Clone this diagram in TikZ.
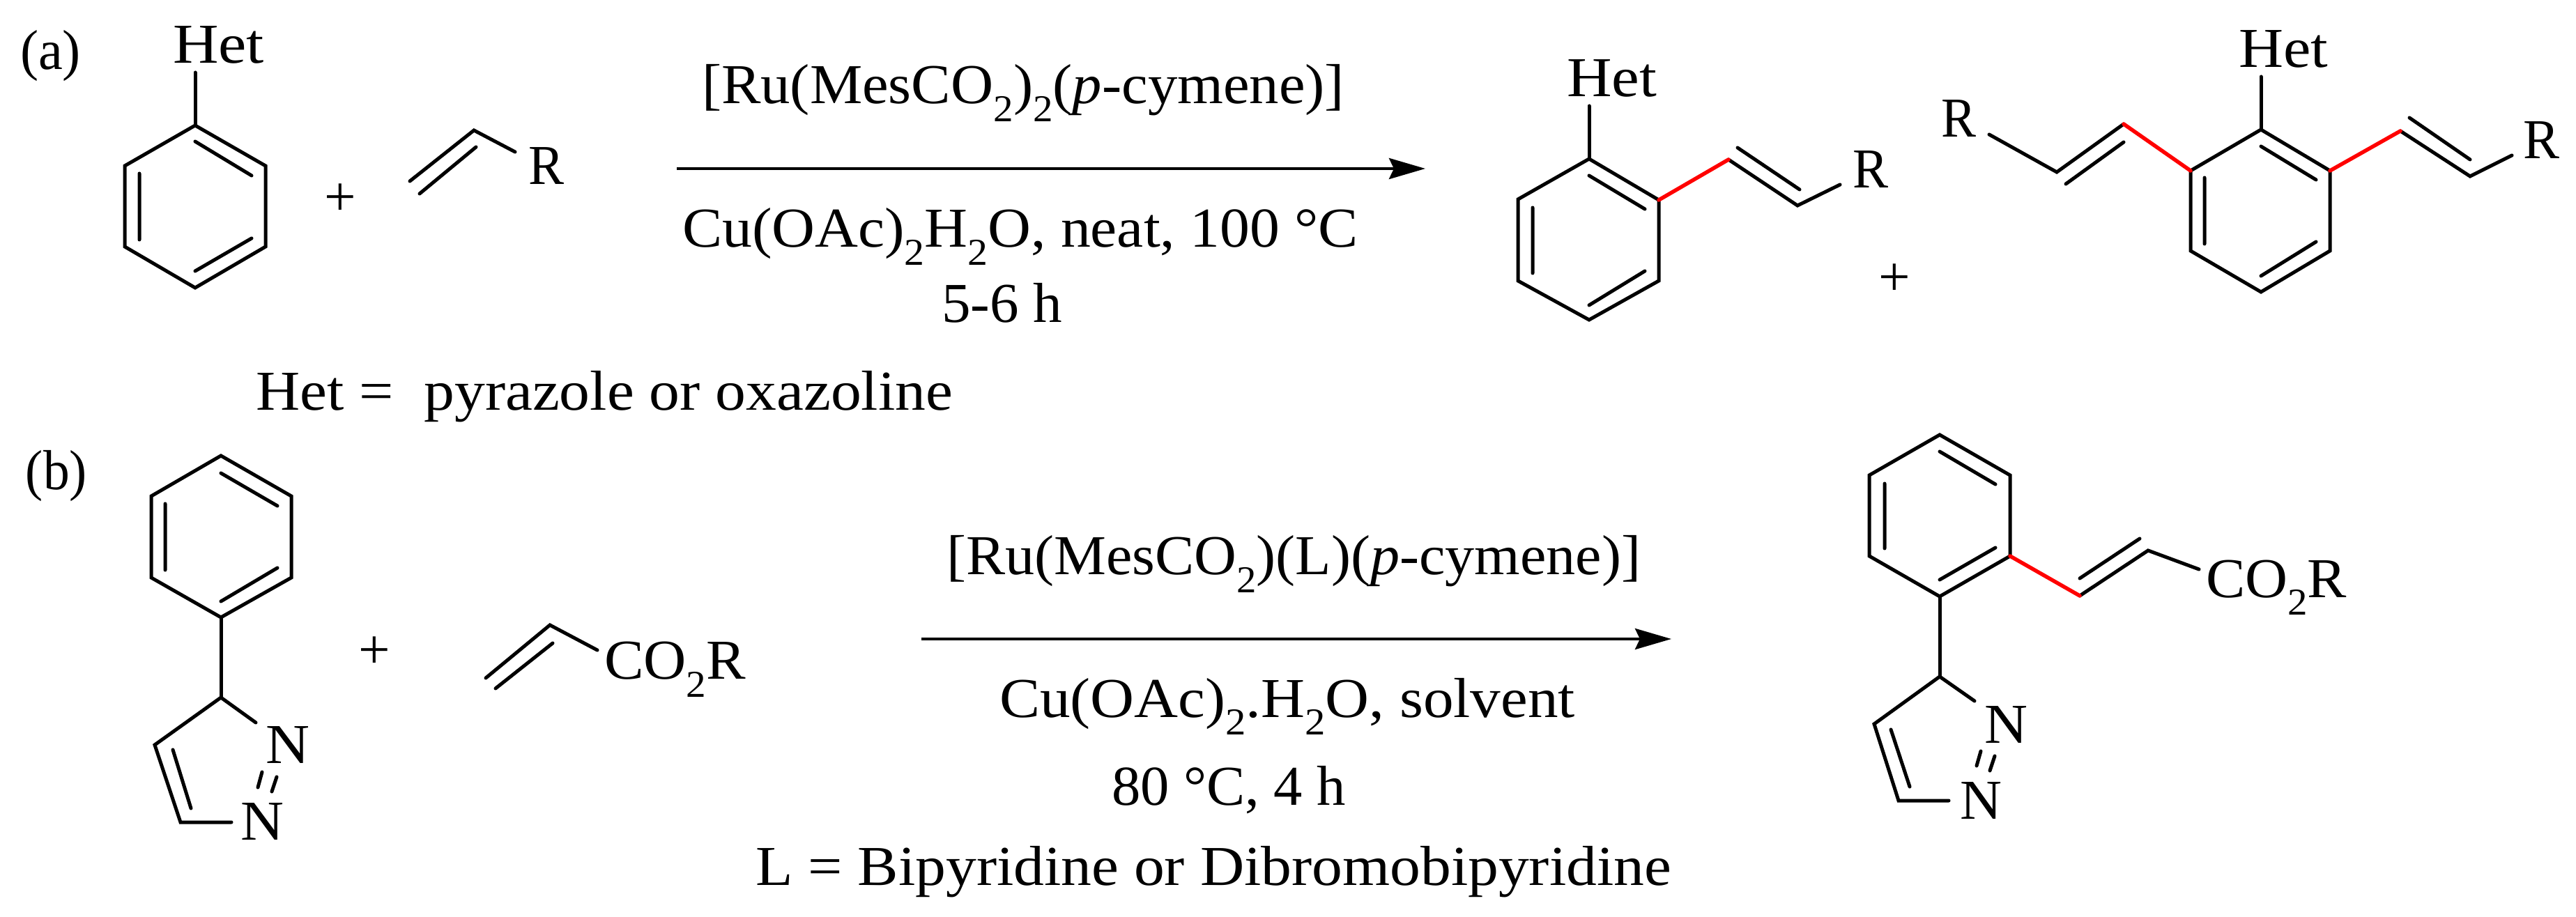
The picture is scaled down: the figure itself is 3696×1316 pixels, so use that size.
\documentclass[tikz,border=0pt]{standalone}
\usepackage{graphicx}
\usepackage{fontspec}
\setmainfont{Liberation Serif}
\usetikzlibrary{arrows.meta}
\newlength\pxu \setlength\pxu{0.01cm}
\newcommand\fit[2]{\resizebox{#1\pxu}{\height}{#2}}
\newcommand\subs[1]{\raisebox{-0.25cm}{\fontsize{15.5}{15.5}\selectfont #1}}
\tikzset{
  bond/.style={line width=0.05cm,line cap=round,line join=miter,black},
  redbond/.style={line width=0.055cm,line cap=round,color={rgb,255:red,255;green,0;blue,0}},
  rxn/.style={line width=0.042cm,-{Stealth[length=0.52cm,width=0.3cm,inset=0.07cm]}},
  lbl/.style={inner sep=0pt,outer sep=0pt,anchor=base west,font=\fontsize{23}{23}\selectfont},
  plusb/.style={inner sep=0pt,outer sep=0pt,anchor=center,font=\fontsize{23}{23}\selectfont}
}
\begin{document}
\begin{tikzpicture}[x=0.01cm,y=-0.01cm]
\useasboundingbox (0,0) rectangle (3696,1316);
% ---- (a) reactant
\node[lbl] (la) at (29,100) {\fit{87}{(a)}};
\node[lbl] (het1) at (248,91) {\fit{131}{Het}};
\coordinate (a0) at (280,104);
\coordinate (a1) at (280,180); \coordinate (a2) at (381,238); \coordinate (a3) at (381,354);
\coordinate (a4) at (280,413); \coordinate (a5) at (179,354); \coordinate (a6) at (179,238);
\coordinate (a1i) at (280,203); \coordinate (a2i) at (361,252);
\coordinate (a3i) at (361,342); \coordinate (a4i) at (280,389);
\coordinate (a5i) at (200,344); \coordinate (a6i) at (200,249);
\draw[bond] (a1)--(a2)--(a3)--(a4)--(a5)--(a6)--cycle;
\draw[bond] (a0)--(a1);
\draw[bond] (a1i)--(a2i) (a3i)--(a4i) (a5i)--(a6i);
\node[plusb] (p1) at (488,287) {+};
\coordinate (v1) at (588,260); \coordinate (v2) at (680,187); \coordinate (v3) at (739,218);
\coordinate (v1i) at (602,278); \coordinate (v2i) at (683,211);
\draw[bond] (v1)--(v2)--(v3);
\draw[bond] (v1i)--(v2i);
\node[lbl] (r1) at (758,265) {\fit{51}{R}};
\node[lbl] (hdef) at (367,589) {\fit{1000}{Het =\ \ pyrazole or oxazoline}};
% ---- (a) conditions
\node[lbl] (ca1) at (1007,149) {\fit{922}{[Ru(MesCO\subs{2})\subs{2}(\emph{p}-cymene)]}};
\coordinate (arA) at (971,242); \coordinate (arB) at (2045,242);
\draw[rxn] (arA)--(arB);
\node[lbl] (ca2) at (979,355) {\fit{970}{Cu(OAc)\subs{2}H\subs{2}O, neat, 100 °C}};
\node[lbl] (ca3) at (1351,463) {\fit{173}{5-6 h}};
% ---- (a) mono product
\node[lbl] (het2) at (2248,139) {\fit{129}{Het}};
\coordinate (m0) at (2280,152);
\coordinate (m1) at (2280,228); \coordinate (m2) at (2380,287); \coordinate (m3) at (2380,403);
\coordinate (m4) at (2280,459); \coordinate (m5) at (2178,403); \coordinate (m6) at (2178,286);
\coordinate (m1i) at (2280,252); \coordinate (m2i) at (2360,300);
\coordinate (m3i) at (2360,389); \coordinate (m4i) at (2280,438);
\coordinate (m5i) at (2199,392); \coordinate (m6i) at (2199,298);
\draw[bond] (m1)--(m2)--(m3)--(m4)--(m5)--(m6)--cycle;
\draw[bond] (m0)--(m1);
\draw[bond] (m1i)--(m2i) (m3i)--(m4i) (m5i)--(m6i);
\coordinate (mv1) at (2480,229); \coordinate (mv2) at (2579,295); \coordinate (mv3) at (2640,265);
\coordinate (mv1i) at (2493,212); \coordinate (mv2i) at (2582,272);
\draw[bond] (mv1)--(mv2)--(mv3);
\draw[bond] (mv1i)--(mv2i);
\draw[redbond] (m2)--(mv1);
\node[lbl] (r2) at (2658,270) {\fit{51}{R}};
\node[plusb] (p2) at (2718,402) {+};
% ---- (a) di product
\node[lbl] (het3) at (3212,97) {\fit{128}{Het}};
\coordinate (d0) at (3244,110);
\coordinate (d1) at (3244,186); \coordinate (d2) at (3343,245); \coordinate (d3) at (3343,360);
\coordinate (d4) at (3244,419); \coordinate (d5) at (3143,360); \coordinate (d6) at (3143,245);
\coordinate (d1i) at (3244,210); \coordinate (d2i) at (3323,258);
\coordinate (d3i) at (3323,347); \coordinate (d4i) at (3244,396);
\coordinate (d5i) at (3163,350); \coordinate (d6i) at (3163,255);
\draw[bond] (d1)--(d2)--(d3)--(d4)--(d5)--(d6)--cycle;
\draw[bond] (d0)--(d1);
\draw[bond] (d1i)--(d2i) (d3i)--(d4i) (d5i)--(d6i);
\coordinate (dl1) at (3047,178); \coordinate (dl2) at (2951,247); \coordinate (dl3) at (2854,193);
\coordinate (dl1i) at (3047,204); \coordinate (dl2i) at (2964,264);
\draw[bond] (dl1)--(dl2)--(dl3);
\draw[bond] (dl1i)--(dl2i);
\draw[redbond] (d6)--(dl1);
\coordinate (dr1) at (3444,188); \coordinate (dr2) at (3544,253); \coordinate (dr3) at (3604,223);
\coordinate (dr1i) at (3457,169); \coordinate (dr2i) at (3544,229);
\draw[bond] (dr1)--(dr2)--(dr3);
\draw[bond] (dr1i)--(dr2i);
\draw[redbond] (d2)--(dr1);
\node[lbl] (r3) at (2785,197) {\fit{50}{R}};
\node[lbl] (r4) at (3620,228) {\fit{52}{R}};
% ---- (b) reactant
\node[lbl] (lb) at (37,703) {\fit{88}{(b)}};
\coordinate (b1) at (317,654); \coordinate (b2) at (418,712); \coordinate (b3) at (418,829);
\coordinate (b4) at (317,886); \coordinate (b5) at (217,829); \coordinate (b6) at (217,712);
\coordinate (b1i) at (317,679); \coordinate (b2i) at (398,726);
\coordinate (b3i) at (398,815); \coordinate (b4i) at (317,863);
\coordinate (b5i) at (237,818); \coordinate (b6i) at (237,723);
\draw[bond] (b1)--(b2)--(b3)--(b4)--(b5)--(b6)--cycle;
\draw[bond] (b1i)--(b2i) (b3i)--(b4i) (b5i)--(b6i);
\coordinate (bc) at (317,1001); \coordinate (bn1) at (367,1037);
\coordinate (bc2) at (222,1069); \coordinate (bc3) at (259,1180); \coordinate (bn2) at (332,1180);
\coordinate (bc2i) at (248,1076); \coordinate (bc3i) at (274,1160);
\coordinate (bd1) at (376,1108); \coordinate (bd2) at (370,1130);
\coordinate (bd3) at (397,1115); \coordinate (bd4) at (390,1136);
\draw[bond] (b4)--(bc);
\draw[bond] (bn1)--(bc)--(bc2)--(bc3)--(bn2);
\draw[bond] (bc2i)--(bc3i) (bd1)--(bd2) (bd3)--(bd4);
\node[lbl] (n1) at (381,1095) {\fit{63}{N}};
\node[lbl] (n2) at (345,1205) {\fit{62}{N}};
\node[plusb] (p3) at (537,937) {+};
\coordinate (ac1) at (697,973); \coordinate (ac2) at (789,897); \coordinate (ac3) at (857,933);
\coordinate (ac1i) at (711,988); \coordinate (ac2i) at (793,923);
\draw[bond] (ac1)--(ac2)--(ac3);
\draw[bond] (ac1i)--(ac2i);
\node[lbl] (co1) at (867,975) {\fit{203}{CO\subs{2}R}};
% ---- (b) conditions
\node[lbl] (cb1) at (1358,825) {\fit{996}{[Ru(MesCO\subs{2})(L)(\emph{p}-cymene)]}};
\coordinate (brA) at (1322,917); \coordinate (brB) at (2398,917);
\draw[rxn] (brA)--(brB);
\node[lbl] (cb2) at (1434,1029) {\fit{826}{Cu(OAc)\subs{2}.H\subs{2}O, solvent}};
\node[lbl] (cb3) at (1595,1155) {\fit{336}{80 °C, 4 h}};
\node[lbl] (cb4) at (1084,1270) {\fit{1314}{L = Bipyridine or Dibromobipyridine}};
% ---- (b) product
\coordinate (q1) at (2783,624); \coordinate (q2) at (2884,682); \coordinate (q3) at (2884,798);
\coordinate (q4) at (2783,856); \coordinate (q5) at (2682,798); \coordinate (q6) at (2682,682);
\coordinate (q1i) at (2783,648); \coordinate (q2i) at (2863,695);
\coordinate (q3i) at (2863,786); \coordinate (q4i) at (2783,832);
\coordinate (q5i) at (2704,787); \coordinate (q6i) at (2704,694);
\draw[bond] (q1)--(q2)--(q3)--(q4)--(q5)--(q6)--cycle;
\draw[bond] (q1i)--(q2i) (q3i)--(q4i) (q5i)--(q6i);
\coordinate (qv1) at (2984,855); \coordinate (qv2) at (3082,790); \coordinate (qv3) at (3155,817);
\coordinate (qv1i) at (2984,830); \coordinate (qv2i) at (3070,773);
\draw[bond] (qv1)--(qv2)--(qv3);
\draw[bond] (qv1i)--(qv2i);
\draw[redbond] (q3)--(qv1);
\node[lbl] (co2) at (3165,857) {\fit{202}{CO\subs{2}R}};
\coordinate (qc) at (2783,971); \coordinate (qn1) at (2833,1006);
\coordinate (qc2) at (2689,1039); \coordinate (qc3) at (2724,1149); \coordinate (qn2) at (2796,1149);
\coordinate (qc2i) at (2713,1047); \coordinate (qc3i) at (2740,1129);
\coordinate (qd1) at (2842,1078); \coordinate (qd2) at (2836,1099);
\coordinate (qd3) at (2862,1085); \coordinate (qd4) at (2855,1106);
\draw[bond] (q4)--(qc);
\draw[bond] (qn1)--(qc)--(qc2)--(qc3)--(qn2);
\draw[bond] (qc2i)--(qc3i) (qd1)--(qd2) (qd3)--(qd4);
\node[lbl] (n3) at (2847,1066) {\fit{62}{N}};
\node[lbl] (n4) at (2812,1175) {\fit{60}{N}};
\end{tikzpicture}
\end{document}
